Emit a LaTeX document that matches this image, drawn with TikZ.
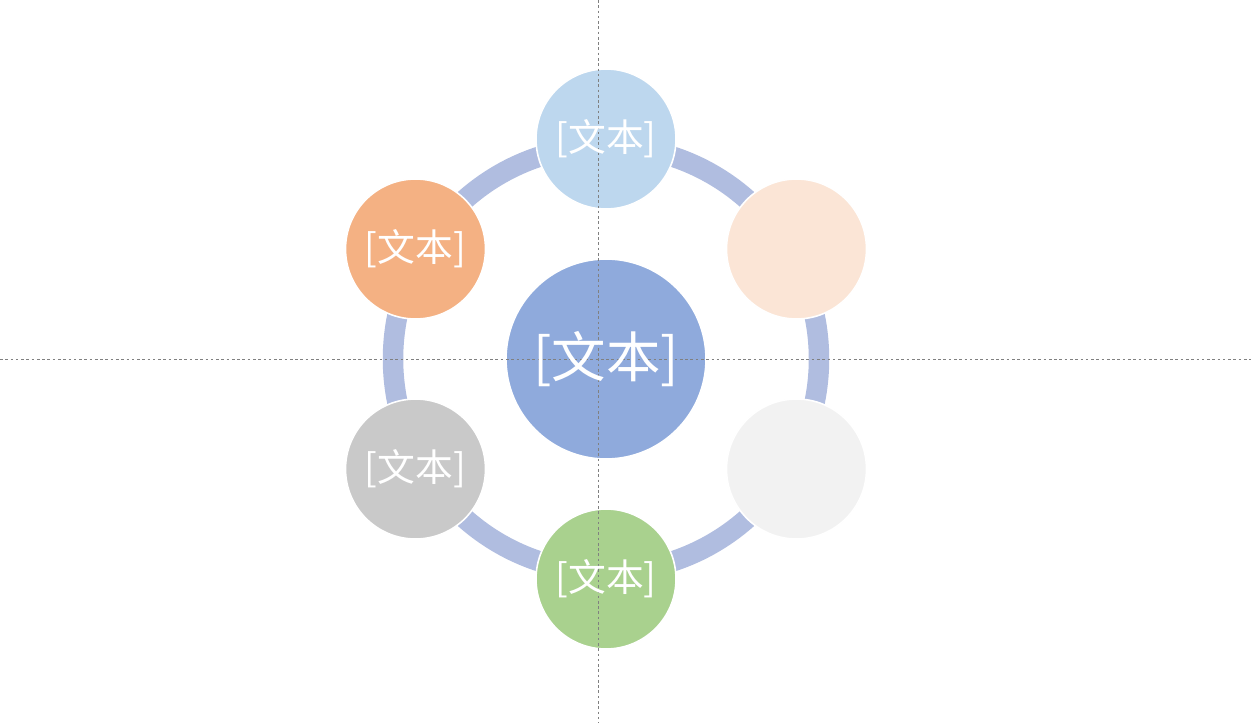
\documentclass[tikz,border=0pt]{standalone}
\usepackage{fontspec}
\newfontfamily\cjk{Noto Sans CJK SC}
\usepackage{tikz}
\usetikzlibrary{positioning}
\definecolor{ringblue}{HTML}{B0BDE0}
\definecolor{hubblue}{HTML}{8FAADC}
\definecolor{skyblue}{HTML}{BDD7EE}
\definecolor{peach}{HTML}{F4B183}
\definecolor{lightpeach}{HTML}{FBE5D6}
\definecolor{lightgrey}{HTML}{F2F2F2}
\definecolor{leafgreen}{HTML}{A9D18E}
\definecolor{midgrey}{HTML}{C9C9C9}
\tikzset{
  hub/.style={ draw=white, line width=0.9pt, circle, fill=hubblue, minimum size=4cm, inner sep=0pt }
}
\tikzset{
  petal/.style={ draw=white, line width=0.9pt, circle, minimum size=2.8cm, inner sep=0pt }
}
\tikzset{
  guide/.style={ draw=gray, line width=0.5pt, dash pattern=on 1.5pt off 1.5pt }
}
\tikzset{
  smalltxt/.style={ text=white, font=\cjk\fontsize{21.5}{21.5}\selectfont },
  bigtxt/.style={ text=white, font=\cjk\fontsize{31}{31}\selectfont }
}

\begin{document}
\begin{tikzpicture}[x=0.02cm, y=-0.02cm]
      \useasboundingbox[fill=white] (0,0) rectangle (1251,723);

      \draw[ringblue, line width=0.41cm] (606,359) circle (213);

      \node[hub] (c) at (606,359) {};
      \node[petal, fill=skyblue] (p1) at (606,139) {};
      \node[petal, fill=lightpeach] (p2) at (796.5,249) {};
      \node[petal, fill=lightgrey] (p3) at (796.5,469) {};
      \node[petal, fill=leafgreen] (p4) at (606,579) {};
      \node[petal, fill=midgrey] (p5) at (415.5,469) {};
      \node[petal, fill=peach] (p6) at (415.5,249) {};

      \coordinate (vt) at (598,0);
      \coordinate (vb) at (598,723);
      \coordinate (hl) at (0,359);
      \coordinate (hr) at (1251,359);
      \draw[guide] (vt) -- (vb);
      \draw[guide] (hl) -- (hr);

      \node[bigtxt] (tc) at (c) {[文本]};
      \node[smalltxt] (t1) at (p1) {[文本]};
      \node[smalltxt] (t4) at (p4) {[文本]};
      \node[smalltxt] (t5) at (p5) {[文本]};
      \node[smalltxt] (t6) at (p6) {[文本]};
    \end{tikzpicture}
\end{document}
